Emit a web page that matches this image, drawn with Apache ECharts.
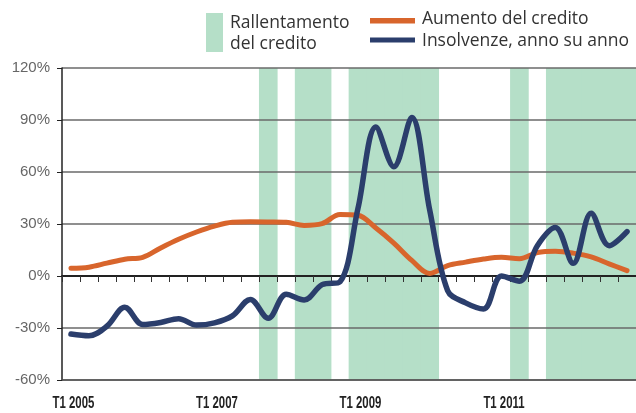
<!DOCTYPE html>
<html>
<head>
<meta charset="utf-8">
<script src="https://cdn.jsdelivr.net/npm/echarts@6/dist/echarts.min.js"></script>
<style>
html,body{margin:0;padding:0;background:#fff;}
#chart{width:636px;height:413px;}
</style>
</head>
<body>
<div id="chart"></div>
<script>
// ---- data ----
var years = [2005, 2006, 2007, 2008, 2009, 2010, 2011, 2012];
var quarterNames = ['T1', 'T2', 'T3', 'T4'];
var yTicks = [-60, -30, 0, 30, 60, 90, 120];
var xTickLabels = ['T1 2005', 'T1 2007', 'T1 2009', 'T1 2011'];

// Aumento del credito (%)
var creditGrowth = [4.4, 5.1, 7.4, 9.7, 10.8, 16.2, 21.2, 25.4, 28.8, 31, 31.3, 31.2, 31, 29.2, 30.2, 35.5,
                    35, 27.7, 19, 9, 1.5, 6, 8, 9.8, 10.8, 10, 13.5, 14.3, 13.2, 11, 7, 3.1];
// Insolvenze, anno su anno (%)
var insolvencies = [-33.5, -34.5, -29, -18, -28, -26.8, -24.6, -28.3, -27, -23, -13.5, -24.4, -10.5, -13.8, -5, -3.3,
                    39, 86, 63, 91.5, 38, -8.5, -15.5, -19, 0, -3, 17.5, 28, 7.3, 36.2, 17.5, 25.6];
// Rallentamento del credito (quarters shaded)
var slowdownQuarters = ['T4 2007', 'T2 2008', 'T3 2008', 'T1 2009', 'T2 2009', 'T3 2009', 'T4 2009', 'T1 2010',
                        'T2 2011', 'T4 2011', 'T1 2012', 'T2 2012', 'T3 2012', 'T4 2012'];

var legendNames = ['Rallentamento', 'del credito', 'Aumento del credito', 'Insolvenze, anno su anno'];

// ---- build ----
var categories = [];
years.forEach(function (y) { quarterNames.forEach(function (q) { categories.push(q + ' ' + y); }); });
var shadeData = categories.map(function (c) { return slowdownQuarters.indexOf(c) >= 0 ? 1 : '-'; });

var ORANGE = '#d8652c', BLUE = '#2b3e6c', GREEN = '#b5dfc8';
var legendFont = '"Open Sans", sans-serif';
var LFS = '17.5px ';

var chart = echarts.init(document.getElementById('chart'), null, {renderer: 'canvas'});
chart.setOption({
  animation: false,
  backgroundColor: '#ffffff',
  grid: {left: 62, right: 0, top: 68, bottom: 33, containLabel: false},
  xAxis: [{
    type: 'category', data: categories, boundaryGap: true, position: 'bottom', z: 3,
    axisLine: {onZero: false, lineStyle: {color: '#555', width: 1.5}},
    axisTick: {show: false},
    axisLabel: {show: false},
    splitLine: {show: false}
  }, {
    type: 'category', data: categories, boundaryGap: true, position: 'bottom', z: 3,
    axisLine: {onZero: true, lineStyle: {color: '#222', width: 2}},
    axisTick: {show: true, interval: 0, length: 6, lineStyle: {color: '#333', width: 1}},
    axisLabel: {show: false},
    splitLine: {show: false}
  }],
  yAxis: [{
    type: 'value', min: yTicks[0], max: yTicks[yTicks.length - 1], interval: 30, z: 3,
    axisLine: {show: true, lineStyle: {color: '#222', width: 1.5}},
    axisTick: {show: true, length: 5, lineStyle: {color: '#222', width: 1}},
    axisLabel: {formatter: '{value}%', margin: 12, color: '#666', fontSize: 15,
                fontFamily: '"Liberation Sans", Arial, sans-serif'},
    splitLine: {show: true, lineStyle: {color: '#6a6a6a', width: 1.5}}
  }, {
    type: 'value', min: 0, max: 1, show: false, splitLine: {show: false}
  }],
  series: [{
    name: legendNames[0], type: 'bar', data: shadeData, xAxisIndex: 0, yAxisIndex: 1,
    barWidth: '104%', barGap: '-100%',
    itemStyle: {color: GREEN}, z: 1, silent: true
  }, {
    name: legendNames[2], type: 'line', data: creditGrowth, xAxisIndex: 0, yAxisIndex: 0,
    smooth: 0.35, symbol: 'none', z: 4,
    lineStyle: {color: ORANGE, width: 5, cap: 'round', join: 'round'}
  }, {
    name: legendNames[3], type: 'line', data: insolvencies, xAxisIndex: 0, yAxisIndex: 0,
    smooth: 0.35, symbol: 'none', z: 5,
    lineStyle: {color: BLUE, width: 5.5, cap: 'round', join: 'round'}
  }]
});

// legend + condensed x-axis labels (positions from the chart's own scales)
var graphics = [
  {type: 'rect', left: 206, top: 13, shape: {width: 17, height: 39}, style: {fill: GREEN}},
  {type: 'text', left: 230, top: 14.5, style: {text: legendNames[0], fill: '#333', font: LFS + legendFont}},
  {type: 'text', left: 230, top: 35.5, style: {text: legendNames[1], fill: '#333', font: LFS + legendFont}},
  {type: 'rect', left: 370, top: 18, shape: {width: 45, height: 5.5}, style: {fill: ORANGE}},
  {type: 'rect', left: 370, top: 37.5, shape: {width: 45, height: 5}, style: {fill: BLUE}},
  {type: 'text', left: 422, top: 10.5, style: {text: legendNames[2], fill: '#333', font: LFS + legendFont}},
  {type: 'text', left: 422, top: 32, style: {text: legendNames[3], fill: '#333', font: LFS + legendFont}}
];
var yBottom = chart.convertToPixel({yAxisIndex: 0}, yTicks[0]);
xTickLabels.forEach(function (lab) {
  var px = chart.convertToPixel({xAxisIndex: 0}, lab);
  graphics.push({
    type: 'text', x: px + 2.5, y: yBottom + 23, scaleX: 0.67, scaleY: 1,
    style: {text: lab, fill: '#222', font: 'bold 17px "Liberation Sans", Arial, sans-serif',
            textAlign: 'center', textVerticalAlign: 'middle'}
  });
});
chart.setOption({graphic: graphics});
</script>
</body>
</html>
